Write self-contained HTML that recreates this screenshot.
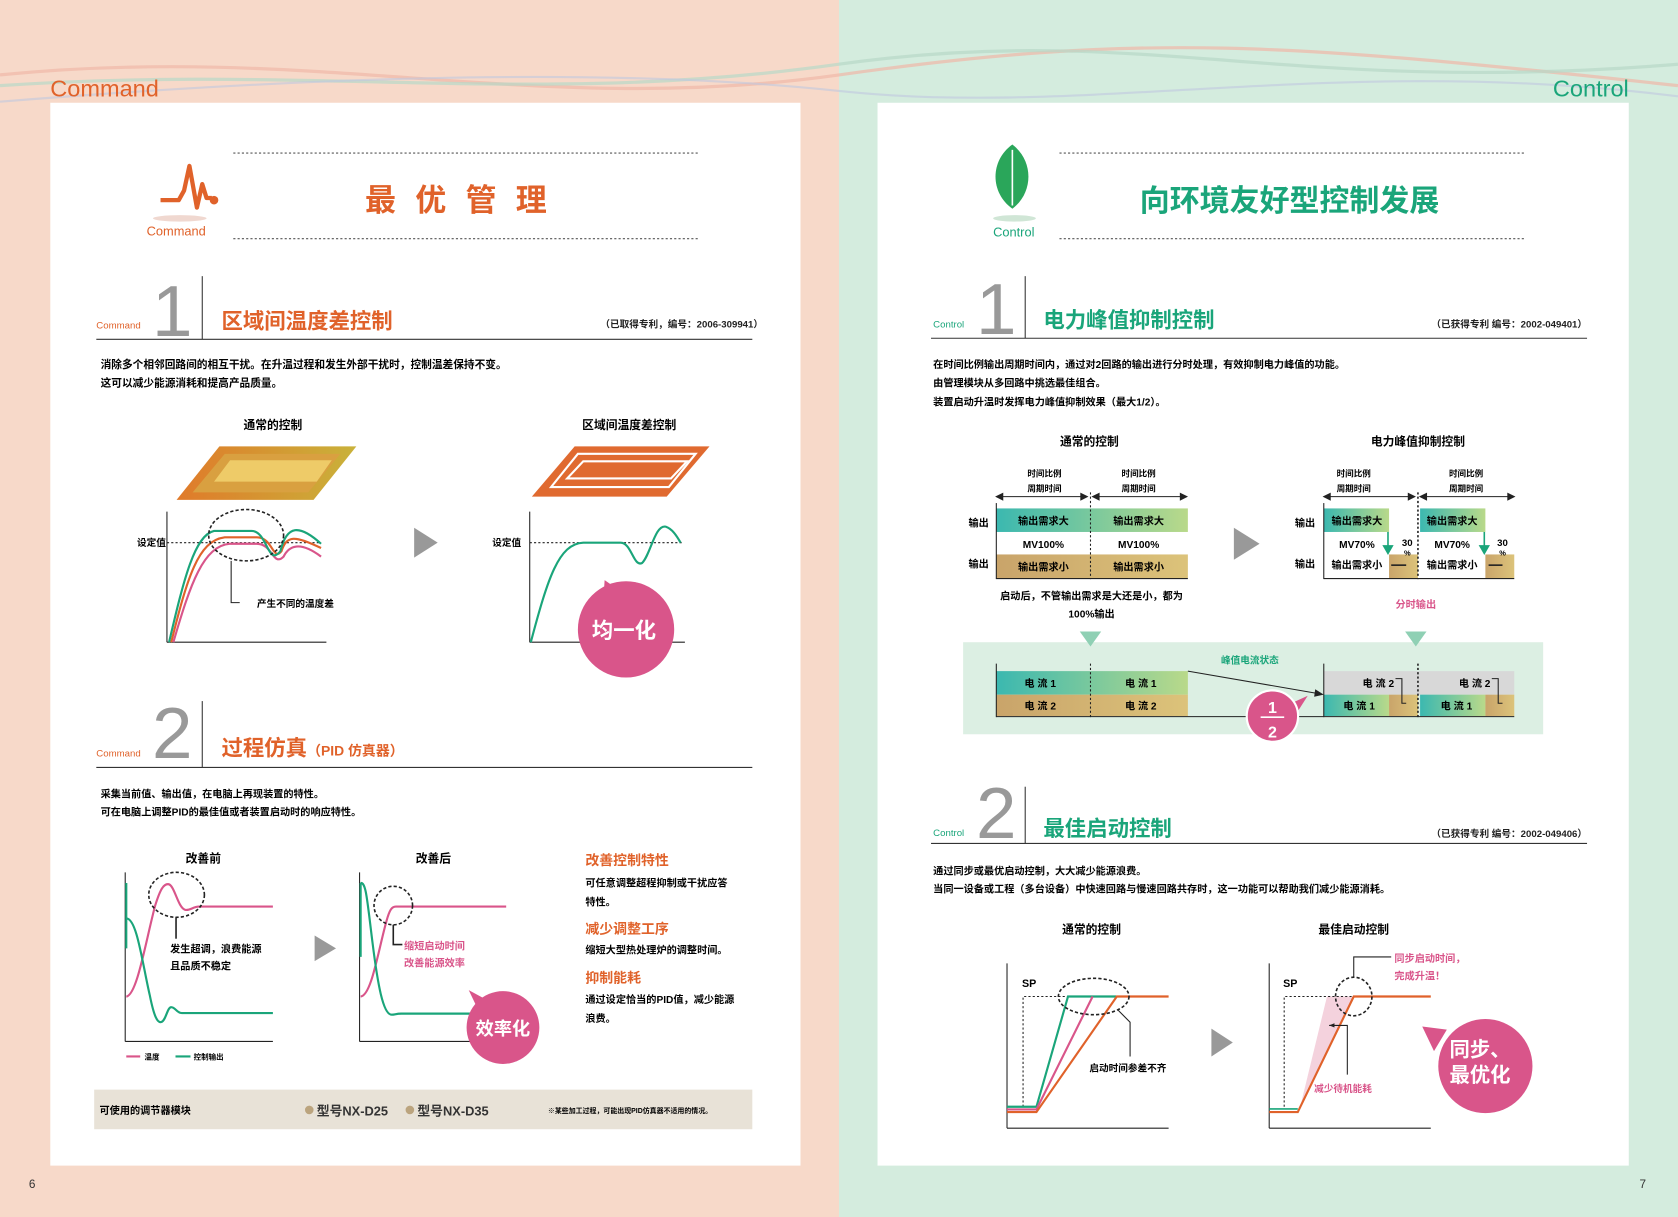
<!DOCTYPE html>
<html><head><meta charset="utf-8">
<style>
html,body{margin:0;padding:0;width:1678px;height:1217px;overflow:hidden;background:#fff}
svg{display:block}
text{font-family:"Liberation Sans","Noto Sans CJK SC",sans-serif}
.b{font-weight:bold}
</style></head><body>
<svg width="1678" height="1217" viewBox="0 0 1568 1137" preserveAspectRatio="none" xmlns="http://www.w3.org/2000/svg">
<defs>
<linearGradient id="teal" x1="0" x2="1" y1="0" y2="0"><stop offset="0" stop-color="#3bb8b0"/><stop offset="1" stop-color="#b9d98a"/></linearGradient>
<linearGradient id="tan" x1="0" x2="1"><stop offset="0" stop-color="#c9a46a"/><stop offset="1" stop-color="#dcc37a"/></linearGradient>
<linearGradient id="para" x1="0" x2="1"><stop offset="0" stop-color="#e07a2a"/><stop offset="1" stop-color="#c9b23a"/></linearGradient>
</defs>
<rect x="0" y="0" width="784" height="1137" fill="#f7d9c9"/>
<rect x="784" y="0" width="784" height="1137" fill="#d4ecde"/>
<path d="M0 70 C300 40 500 110 784 70 S1200 40 1568 80" stroke="#f0b8a8" stroke-width="3" fill="none" opacity=".7"/>
<path d="M0 80 C300 60 500 100 784 60 S1200 90 1568 60" stroke="#b8d8c8" stroke-width="3" fill="none" opacity=".7"/>
<path d="M0 95 C250 75 550 60 784 85 S1250 50 1568 90" stroke="#c0c8e0" stroke-width="2" fill="none" opacity=".6"/>
<rect x="47" y="96" width="701" height="993" fill="#fff"/>
<rect x="820" y="96" width="702" height="993" fill="#fff"/>
<text x="47" y="90" font-size="22" fill="#e0622a">Command</text>
<text x="1522" y="90" font-size="22" fill="#1aa57a" text-anchor="end">Control</text>
<text x="27" y="1110" font-size="11" fill="#333">6</text>
<text x="1532" y="1110" font-size="11" fill="#333">7</text>

<!-- ===== LEFT PAGE ===== -->
<polyline points="150,187 167,187 172,178 177,155 184,194 189,172 193,185 198,185" stroke="#e0622a" stroke-width="4" fill="none" stroke-linejoin="round"/>
<circle cx="200" cy="187" r="4" fill="#e0622a"/>
<ellipse cx="168" cy="204" rx="25" ry="3" fill="#f0d8d0"/>
<text x="137" y="220" font-size="12" fill="#e0622a">Command</text>
<line x1="218" y1="143" x2="652" y2="143" stroke="#555" stroke-dasharray="2,2"/>
<line x1="218" y1="223" x2="652" y2="223" stroke="#555" stroke-dasharray="2,2"/>
<text x="435" y="197" font-size="29" fill="#e0622a" text-anchor="middle" class="b" letter-spacing="18">最优管理</text>

<text x="90" y="307" font-size="9" fill="#e0622a">Command</text>
<text x="142" y="314" font-size="68" fill="#999" style="font-family:'DejaVu Sans ExtraLight','Liberation Sans',sans-serif">1</text>
<line x1="189" y1="258" x2="189" y2="317" stroke="#333"/>
<text x="207" y="307" font-size="20" fill="#e0622a" class="b">区域间温度差控制</text>
<text x="713" y="306" font-size="9" fill="#222" text-anchor="end" class="b">（已取得专利，编号：2006-309941）</text>
<line x1="90" y1="317" x2="703" y2="317" stroke="#333"/>
<text x="94" y="344" font-size="10" class="b">消除多个相邻回路间的相互干扰。在升温过程和发生外部干扰时，控制温差保持不变。</text>
<text x="94" y="361" font-size="10" class="b">这可以减少能源消耗和提高产品质量。</text>

<text x="255" y="401" font-size="11" class="b" text-anchor="middle">通常的控制</text>
<text x="588" y="401" font-size="11" class="b" text-anchor="middle">区域间温度差控制</text>
<polygon points="165,467 205,417 333,417 293,467" fill="url(#para)"/>
<polygon points="180,460 210,424 318,424 288,460" fill="#d9a040"/>
<polygon points="200,450 215,430 310,430 296,450" fill="#eecb68"/>
<polygon points="497,464 537,417 663,417 623,464" fill="#e06a30"/>
<polygon points="515,455 540,424 650,424 625,455" fill="none" stroke="#fff" stroke-width="2"/>
<polygon points="530,447 545,431 642,431 627,447" fill="none" stroke="#fff" stroke-width="2"/>

<line x1="156" y1="478" x2="156" y2="600" stroke="#222"/>
<line x1="156" y1="600" x2="305" y2="600" stroke="#222"/>
<line x1="156" y1="507" x2="300" y2="507" stroke="#222" stroke-dasharray="2,2"/>
<text x="128" y="510" font-size="9" class="b">设定值</text>
<path d="M160 600 C175 540 185 505 210 502 L240 502 C255 502 255 525 263 515 C268 500 275 500 300 512" stroke="#e0622a" stroke-width="2" fill="none"/>
<path d="M162 600 C178 545 190 510 215 508 L240 508 C255 508 255 530 265 520 C270 510 280 505 300 520" stroke="#d9558a" stroke-width="2" fill="none"/>
<path d="M158 600 C172 540 182 500 200 496 L235 496 C250 496 250 530 262 515 C268 490 280 490 300 508" stroke="#1aa57a" stroke-width="2" fill="none"/>
<ellipse cx="230" cy="500" rx="35" ry="24" fill="none" stroke="#222" stroke-width="1.5" stroke-dasharray="3,2"/>
<polyline points="216,524 216,563 224,563" stroke="#222" fill="none"/>
<text x="240" y="567" font-size="9" class="b">产生不同的温度差</text>
<polygon points="387,493 409,507 387,521" fill="#999"/>

<line x1="495" y1="478" x2="495" y2="600" stroke="#222"/>
<line x1="495" y1="600" x2="640" y2="600" stroke="#222"/>
<line x1="495" y1="507" x2="637" y2="507" stroke="#222" stroke-dasharray="2,2"/>
<text x="460" y="510" font-size="9" class="b">设定值</text>
<path d="M496 600 C512 540 522 508 545 507 L580 507 C590 507 592 530 600 526 C608 518 612 490 622 492 C628 494 632 500 636 507" stroke="#1aa57a" stroke-width="2" fill="none"/>
<polygon points="563,572 565,542 588,558" fill="#d9558a"/>
<circle cx="585" cy="588" r="45" fill="#d9558a"/>
<text x="583" y="596" font-size="20" fill="#fff" text-anchor="middle" class="b">均一化</text>

<text x="90" y="707" font-size="9" fill="#e0622a">Command</text>
<text x="142" y="708" font-size="68" fill="#999" style="font-family:'DejaVu Sans ExtraLight','Liberation Sans',sans-serif">2</text>
<line x1="189" y1="655" x2="189" y2="717" stroke="#333"/>
<text x="207" y="706" font-size="20" fill="#e0622a" class="b">过程仿真<tspan font-size="13">（PID 仿真器）</tspan></text>
<line x1="90" y1="717" x2="703" y2="717" stroke="#333"/>
<text x="94" y="745" font-size="9.5" class="b">采集当前值、输出值，在电脑上再现装置的特性。</text>
<text x="94" y="762" font-size="9.5" class="b">可在电脑上调整PID的最佳值或者装置启动时的响应特性。</text>

<text x="190" y="806" font-size="11" class="b" text-anchor="middle">改善前</text>
<text x="405" y="806" font-size="11" class="b" text-anchor="middle">改善后</text>
<line x1="117" y1="815" x2="117" y2="973" stroke="#222"/>
<line x1="117" y1="973" x2="255" y2="973" stroke="#222"/>
<path d="M118 931 C128 930 136 880 145 846 C150 830 153 826 157 826 C163 826 166 848 173 850 C178 851 180 847 186 847 L255 847" stroke="#d9558a" stroke-width="2" fill="none"/>
<path d="M118 825 L118 886 M118 858 C128 858 133 900 140 930 C144 950 147 955 150 955 C155 955 156 941 160 941 C164 941 165 946.5 170 946.5 L255 946.5" stroke="#1aa57a" stroke-width="2" fill="none"/>
<ellipse cx="165" cy="836" rx="26" ry="21" fill="none" stroke="#222" stroke-width="1.5" stroke-dasharray="3,2"/>
<line x1="164.5" y1="857" x2="164.5" y2="877" stroke="#222" stroke-width="1.5"/>
<text x="159" y="890" font-size="9.5" class="b">发生超调，浪费能源</text>
<text x="159" y="906" font-size="9.5" class="b">且品质不稳定</text>
<line x1="118" y1="987" x2="131" y2="987" stroke="#d9558a" stroke-width="2"/>
<text x="135" y="990" font-size="7" class="b">温度</text>
<line x1="164" y1="987" x2="178" y2="987" stroke="#1aa57a" stroke-width="2"/>
<text x="181" y="990" font-size="7" class="b">控制输出</text>
<polygon points="294,874 314,886 294,898" fill="#999"/>
<line x1="336" y1="815" x2="336" y2="973" stroke="#222"/>
<line x1="336" y1="973" x2="440" y2="973" stroke="#222"/>
<path d="M337 931 C347 930 353 890 361 861 C364 850 366 847 370 847 L473 847" stroke="#d9558a" stroke-width="2" fill="none"/>
<path d="M337 825 L337 894 M337 825 C342 824 343 840 348 880 C353 920 358 948 366 948 C369 948 370 947 375 947 L440 947" stroke="#1aa57a" stroke-width="2" fill="none"/>
<ellipse cx="367.5" cy="846" rx="18" ry="18" fill="none" stroke="#222" stroke-width="1.5" stroke-dasharray="3,2"/>
<polyline points="367.5,864 367.5,882.5 376,882.5" stroke="#222" stroke-width="1.5" fill="none"/>
<text x="377.5" y="887" font-size="9.5" fill="#d9558a" class="b">缩短启动时间</text>
<text x="377.5" y="903" font-size="9.5" fill="#d9558a" class="b">改善能源效率</text>
<polygon points="438,925 448,946 460,937" fill="#d9558a"/>
<circle cx="470" cy="960" r="34" fill="#d9558a"/>
<text x="470" y="967" font-size="17" fill="#fff" text-anchor="middle" class="b">效率化</text>

<text x="547" y="808" font-size="13" fill="#e0622a" class="b">改善控制特性</text>
<text x="547" y="828" font-size="9.5" class="b">可任意调整超程抑制或干扰应答</text>
<text x="547" y="846" font-size="9.5" class="b">特性。</text>
<text x="547" y="872" font-size="13" fill="#e0622a" class="b">减少调整工序</text>
<text x="547" y="891" font-size="9.5" class="b">缩短大型热处理炉的调整时间。</text>
<text x="547" y="918" font-size="13" fill="#e0622a" class="b">抑制能耗</text>
<text x="547" y="937" font-size="9.5" class="b">通过设定恰当的PID值，减少能源</text>
<text x="547" y="955" font-size="9.5" class="b">浪费。</text>

<rect x="88" y="1018" width="615" height="37" fill="#e8e2d7"/>
<text x="93" y="1041" font-size="9.5" class="b">可使用的调节器模块</text>
<circle cx="289" cy="1037" r="4" fill="#bba47e"/>
<text x="296" y="1042" font-size="12" class="b" fill="#333">型号NX-D25</text>
<circle cx="383" cy="1037" r="4" fill="#bba47e"/>
<text x="390" y="1042" font-size="12" class="b" fill="#333">型号NX-D35</text>
<text x="512" y="1040" font-size="6.5" class="b">※某些加工过程，可能出现PID仿真器不适用的情况。</text>

<!-- ===== RIGHT PAGE ===== -->
<path d="M946 135 C925 150 925 180 946 195 C966 180 966 150 946 135 Z" fill="#2aa65a"/>
<path d="M946 140 L946 192" stroke="#fff" stroke-width="1.5"/>
<ellipse cx="948" cy="204" rx="20" ry="3" fill="#d0e6d6"/>
<text x="928" y="221" font-size="12" fill="#1aa57a">Control</text>
<line x1="990" y1="143" x2="1425" y2="143" stroke="#555" stroke-dasharray="2,2"/>
<line x1="990" y1="223" x2="1425" y2="223" stroke="#555" stroke-dasharray="2,2"/>
<text x="1205" y="197" font-size="28" fill="#1aa57a" text-anchor="middle" class="b">向环境友好型控制发展</text>

<text x="872" y="306" font-size="9" fill="#1aa57a">Control</text>
<text x="912" y="312" font-size="68" fill="#999" style="font-family:'DejaVu Sans ExtraLight','Liberation Sans',sans-serif">1</text>
<line x1="958" y1="258" x2="958" y2="316" stroke="#333"/>
<text x="975" y="306" font-size="20" fill="#1aa57a" class="b">电力峰值抑制控制</text>
<text x="1483" y="306" font-size="9" fill="#222" text-anchor="end" class="b">（已获得专利 编号：2002-049401）</text>
<line x1="870" y1="316" x2="1483" y2="316" stroke="#333"/>
<text x="872" y="344" font-size="9.5" class="b">在时间比例输出周期时间内，通过对2回路的输出进行分时处理，有效抑制电力峰值的功能。</text>
<text x="872" y="361" font-size="9.5" class="b">由管理模块从多回路中挑选最佳组合。</text>
<text x="872" y="379" font-size="9.5" class="b">装置启动升温时发挥电力峰值抑制效果（最大1/2）。</text>

<text x="1018" y="416" font-size="11" class="b" text-anchor="middle">通常的控制</text>
<text x="1325" y="416" font-size="11" class="b" text-anchor="middle">电力峰值抑制控制</text>

<g font-size="8" class="b" text-anchor="middle">
<text x="976" y="445">时间比例</text><text x="976" y="459">周期时间</text>
<text x="1064" y="445">时间比例</text><text x="1064" y="459">周期时间</text>
<text x="1265" y="445">时间比例</text><text x="1265" y="459">周期时间</text>
<text x="1370" y="445">时间比例</text><text x="1370" y="459">周期时间</text>
</g>
<g stroke="#222" fill="#222">
<line x1="933" y1="464" x2="1016" y2="464"/><polygon points="931,464 937,461 937,467"/><polygon points="1016,464 1010,461 1010,467"/>
<line x1="1022" y1="464" x2="1108" y2="464"/><polygon points="1021,464 1027,461 1027,467"/><polygon points="1109,464 1103,461 1103,467"/>
<line x1="1239" y1="464" x2="1321" y2="464"/><polygon points="1237,464 1243,461 1243,467"/><polygon points="1322,464 1316,461 1316,467"/>
<line x1="1329" y1="464" x2="1413" y2="464"/><polygon points="1327,464 1333,461 1333,467"/><polygon points="1415,464 1409,461 1409,467"/>
</g>
<rect x="931" y="475" width="179" height="22" fill="url(#teal)"/>
<rect x="931" y="518" width="179" height="22" fill="url(#tan)"/>
<line x1="931" y1="470" x2="931" y2="541" stroke="#222"/>
<line x1="931" y1="540.5" x2="1110" y2="540.5" stroke="#222"/>
<line x1="1019" y1="460" x2="1019" y2="541" stroke="#222" stroke-dasharray="2,2"/>
<g font-size="9.5" class="b" text-anchor="middle">
<text x="975" y="490">输出需求大</text><text x="1064" y="490">输出需求大</text>
<text x="975" y="512">MV100%</text><text x="1064" y="512">MV100%</text>
<text x="975" y="533">输出需求小</text><text x="1064" y="533">输出需求小</text>
</g>
<text x="905" y="492" font-size="9.5" class="b">输出</text>
<text x="905" y="530" font-size="9.5" class="b">输出</text>
<polygon points="1153,493 1177,508 1153,523" fill="#999"/>
<rect x="1237" y="475" width="61" height="22" fill="url(#teal)"/>
<rect x="1327" y="475" width="61" height="22" fill="url(#teal)"/>
<rect x="1298" y="518" width="27" height="22" fill="url(#tan)"/>
<rect x="1388" y="518" width="27" height="22" fill="url(#tan)"/>
<line x1="1237" y1="470" x2="1237" y2="541" stroke="#222"/>
<line x1="1237" y1="540.5" x2="1415" y2="540.5" stroke="#222"/>
<line x1="1325" y1="460" x2="1325" y2="541" stroke="#222" stroke-dasharray="2,2" stroke-width="1.5"/>
<g stroke="#1aa57a" fill="#1aa57a" stroke-width="1.5"><line x1="1297" y1="497" x2="1297" y2="512"/><polygon points="1293,510 1301,510 1297,517"/>
<line x1="1387" y1="497" x2="1387" y2="512"/><polygon points="1383,510 1391,510 1387,517"/></g>
<text x="1310" y="510" font-size="9" class="b">30</text><text x="1312" y="519" font-size="7" class="b">%</text>
<text x="1399" y="510" font-size="9" class="b">30</text><text x="1401" y="519" font-size="7" class="b">%</text>
<g font-size="9.5" class="b" text-anchor="middle">
<text x="1268" y="490">输出需求大</text><text x="1357" y="490">输出需求大</text>
<text x="1268" y="512">MV70%</text><text x="1357" y="512">MV70%</text>
<text x="1268" y="531">输出需求小</text><text x="1357" y="531">输出需求小</text>
</g>
<line x1="1300" y1="528" x2="1314" y2="528" stroke="#222" stroke-width="1.5"/>
<line x1="1391" y1="528" x2="1404" y2="528" stroke="#222" stroke-width="1.5"/>
<text x="1210" y="492" font-size="9.5" class="b">输出</text>
<text x="1210" y="530" font-size="9.5" class="b">输出</text>
<text x="1020" y="560" font-size="9.5" class="b" text-anchor="middle">启动后，不管输出需求是大还是小，都为</text>
<text x="1020" y="577" font-size="9.5" class="b" text-anchor="middle">100%输出</text>
<text x="1323" y="568" font-size="9.5" fill="#d9558a" class="b" text-anchor="middle">分时输出</text>

<rect x="900" y="600" width="542" height="86" fill="#dcefe3"/>
<polygon points="1009,590 1029,590 1019,604" fill="#8fd0b4"/>
<polygon points="1313,590 1333,590 1323,604" fill="#8fd0b4"/>
<text x="1168" y="620" font-size="9" fill="#1aa57a" class="b" text-anchor="middle">峰值电流状态</text>
<rect x="931" y="627" width="179" height="22" fill="url(#teal)"/>
<rect x="931" y="649" width="179" height="20" fill="url(#tan)"/>
<line x1="931" y1="620" x2="931" y2="670" stroke="#222"/>
<line x1="931" y1="669.5" x2="1237" y2="669.5" stroke="#222"/>
<line x1="1019" y1="620" x2="1019" y2="670" stroke="#222" stroke-dasharray="2,2"/>
<rect x="1237" y="627" width="178" height="22" fill="#d8d8d8"/>
<rect x="1237" y="649" width="61" height="20" fill="url(#teal)"/>
<rect x="1298" y="649" width="27" height="20" fill="url(#tan)"/>
<rect x="1327" y="649" width="61" height="20" fill="url(#teal)"/>
<rect x="1388" y="649" width="27" height="20" fill="url(#tan)"/>
<line x1="1237" y1="620" x2="1237" y2="670" stroke="#222"/>
<line x1="1237" y1="669.5" x2="1415" y2="669.5" stroke="#222"/>
<line x1="1325" y1="620" x2="1325" y2="670" stroke="#222" stroke-dasharray="2,2" stroke-width="1.5"/>
<line x1="1110" y1="627" x2="1232" y2="648" stroke="#222"/>
<polygon points="1237,649 1229,644 1228,651" fill="#222"/>
<g font-size="9.5" class="b" text-anchor="middle">
<text x="972" y="642">电 流 1</text><text x="1066" y="642">电 流 1</text>
<text x="972" y="663">电 流 2</text><text x="1066" y="663">电 流 2</text>
<text x="1288" y="642">电 流 2</text><text x="1378" y="642">电 流 2</text>
<text x="1270" y="663">电 流 1</text><text x="1361" y="663">电 流 1</text>
</g>
<polyline points="1304,634 1310,634 1310,657 1314,657" stroke="#222" fill="none"/>
<polyline points="1394,634 1400,634 1400,657 1404,657" stroke="#222" fill="none"/>
<polygon points="1200,660 1222,650 1208,672" fill="#d9558a"/>
<circle cx="1189" cy="669" r="24" fill="#d9558a" stroke="#fff" stroke-width="2"/>
<text x="1189" y="666" font-size="15" fill="#fff" text-anchor="middle" class="b">1</text>
<line x1="1178" y1="670" x2="1200" y2="670" stroke="#fff" stroke-width="1.5"/>
<text x="1189" y="689" font-size="15" fill="#fff" text-anchor="middle" class="b">2</text>

<text x="872" y="781" font-size="9" fill="#1aa57a">Control</text>
<text x="912" y="783" font-size="68" fill="#999" style="font-family:'DejaVu Sans ExtraLight','Liberation Sans',sans-serif">2</text>
<line x1="958" y1="735" x2="958" y2="788" stroke="#333"/>
<text x="975" y="781" font-size="20" fill="#1aa57a" class="b">最佳启动控制</text>
<text x="1483" y="782" font-size="9" fill="#222" text-anchor="end" class="b">（已获得专利 编号：2002-049406）</text>
<line x1="870" y1="788" x2="1483" y2="788" stroke="#333"/>
<text x="872" y="817" font-size="9.5" class="b">通过同步或最优启动控制，大大减少能源浪费。</text>
<text x="872" y="834" font-size="9.5" class="b">当同一设备或工程（多台设备）中快速回路与慢速回路共存时，这一功能可以帮助我们减少能源消耗。</text>
<text x="1020" y="872" font-size="11" class="b" text-anchor="middle">通常的控制</text>
<text x="1265" y="872" font-size="11" class="b" text-anchor="middle">最佳启动控制</text>

<line x1="941" y1="900" x2="941" y2="1054" stroke="#222"/>
<line x1="941" y1="1054" x2="1092" y2="1054" stroke="#222"/>
<text x="955" y="922" font-size="10" class="b">SP</text>
<polyline points="956,1034 956,931 1044,931" stroke="#222" fill="none" stroke-dasharray="2,2"/>
<polyline points="941,1034 968.5,1034 998,931 1043,931" stroke="#1aa57a" stroke-width="2" fill="none"/>
<polyline points="941,1036.5 968.5,1036.5 1021,931" stroke="#d9558a" stroke-width="2" fill="none"/>
<polyline points="941,1039 968.5,1039 1043.6,931 1092,931" stroke="#e0622a" stroke-width="2" fill="none"/>
<ellipse cx="1022" cy="931" rx="33" ry="17" fill="none" stroke="#222" stroke-width="1.5" stroke-dasharray="3,2"/>
<polyline points="1045,944 1056,955 1056,987" stroke="#222" fill="none"/>
<text x="1018" y="1001" font-size="9" class="b">启动时间参差不齐</text>
<polygon points="1132,961 1152,974 1132,987" fill="#999"/>

<line x1="1186" y1="900" x2="1186" y2="1054" stroke="#222"/>
<line x1="1186" y1="1054" x2="1337" y2="1054" stroke="#222"/>
<text x="1199" y="922" font-size="10" class="b">SP</text>
<polygon points="1215,1034 1240,931 1265,931" fill="#f4d2dd"/>
<polyline points="1200,1034 1200,931 1265,931" stroke="#222" fill="none" stroke-dasharray="2,2"/>
<polyline points="1186,1036 1212.7,1036" stroke="#1aa57a" stroke-width="1.5" fill="none"/>
<polyline points="1186,1039 1212.7,1039 1265,931 1337,931" stroke="#e0622a" stroke-width="2" fill="none"/>
<ellipse cx="1265" cy="931" rx="17" ry="18" fill="none" stroke="#222" stroke-width="1.5" stroke-dasharray="3,2"/>
<polyline points="1265,913 1265,894 1300,894" stroke="#222" fill="none"/>
<text x="1303" y="899" font-size="9.5" fill="#d9558a" class="b">同步启动时间，</text>
<text x="1303" y="915" font-size="9.5" fill="#d9558a" class="b">完成升温！</text>
<polyline points="1242,958 1259,958 1259,1004" stroke="#222" fill="none"/>
<polygon points="1242,958 1247,956 1247,960" fill="#222"/>
<text x="1228" y="1020" font-size="9" fill="#d9558a" class="b">减少待机能耗</text>
<polygon points="1329,959 1352,962 1340,982" fill="#d9558a"/>
<circle cx="1388" cy="996" r="44" fill="#d9558a"/>
<text x="1383" y="987" font-size="19" fill="#fff" text-anchor="middle" class="b">同步、</text>
<text x="1383" y="1011" font-size="19" fill="#fff" text-anchor="middle" class="b">最优化</text>
</svg>
</body></html>
